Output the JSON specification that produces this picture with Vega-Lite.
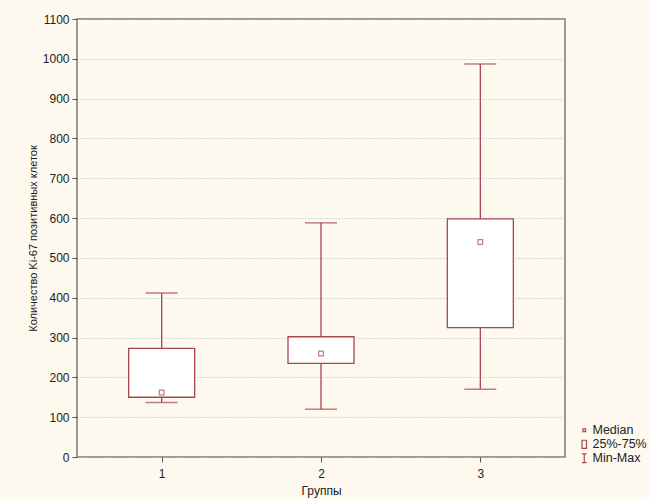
{
  "$schema": "https://vega.github.io/schema/vega-lite/v6.json",
  "width": 488,
  "height": 438,
  "autosize": {"type": "none"},
  "padding": {"left": 77, "top": 19, "right": 84, "bottom": 42},
  "background": "#fdf9ee",
  "config": {
    "font": "Liberation Sans",
    "view": {"fill": "white", "stroke": "#7a7a7a", "strokeWidth": 1.5},
    "axis": {
      "labelFont": "Liberation Sans",
      "titleFont": "Liberation Sans",
      "labelFontSize": 12,
      "labelColor": "#222",
      "titleColor": "#222",
      "titleFontWeight": "normal",
      "tickColor": "#555",
      "domain": false,
      "labelOverlap": false
    }
  },
  "datasets": {
    "boxes": [
      {"group": 1, "min": 137, "q1": 150, "median": 162, "q3": 273, "max": 412},
      {"group": 2, "min": 120, "q1": 235, "median": 260, "q3": 302, "max": 588},
      {"group": 3, "min": 170, "q1": 325, "median": 540, "q3": 598, "max": 987}
    ],
    "legend": [
      {"item": "Median"},
      {"item": "25%-75%"},
      {"item": "Min-Max"}
    ]
  },
  "layer": [
    {
      "data": {"name": "boxes"},
      "mark": {"type": "rule", "color": "#a84650", "strokeWidth": 1.3},
      "encoding": {
        "x": {
          "field": "group", "type": "quantitative",
          "scale": {"domain": [0.5, 3.5], "nice": false, "zero": false},
          "axis": {"values": [1, 2, 3], "format": "d", "grid": false, "title": "Группы", "titleFontSize": 12, "tickSize": 5, "labelPadding": 6, "titlePadding": 6}
        },
        "y": {
          "field": "min", "type": "quantitative",
          "scale": {"domain": [0, 1100], "nice": false},
          "axis": {"values": [0,100,200,300,400,500,600,700,800,900,1000,1100], "format": "d", "grid": true, "gridColor": "#b8b8b8", "gridDash": [1, 2], "gridWidth": 1, "tickSize": 5, "labelPadding": 3, "title": "Количество Ki-67 позитивных клеток", "titleFontSize": 11, "titlePadding": 4}
        },
        "y2": {"field": "max"}
      }
    },
    {
      "data": {"name": "boxes"},
      "mark": {"type": "tick", "orient": "horizontal", "color": "#a84650", "size": 32, "thickness": 1.5},
      "encoding": {
        "x": {"field": "group", "type": "quantitative", "axis": {"values": [1, 2, 3], "format": "d", "grid": false, "title": "Группы", "titleFontSize": 12, "tickSize": 5, "labelPadding": 6, "titlePadding": 6}},
        "y": {"field": "min", "type": "quantitative", "axis": {"values": [0,100,200,300,400,500,600,700,800,900,1000,1100], "format": "d", "grid": true, "gridColor": "#b8b8b8", "gridDash": [1, 2], "gridWidth": 1, "tickSize": 5, "labelPadding": 3, "title": "Количество Ki-67 позитивных клеток", "titleFontSize": 11, "titlePadding": 4}}
      }
    },
    {
      "data": {"name": "boxes"},
      "mark": {"type": "tick", "orient": "horizontal", "color": "#a84650", "size": 32, "thickness": 1.5},
      "encoding": {
        "x": {"field": "group", "type": "quantitative", "axis": {"values": [1, 2, 3], "format": "d", "grid": false, "title": "Группы", "titleFontSize": 12, "tickSize": 5, "labelPadding": 6, "titlePadding": 6}},
        "y": {"field": "max", "type": "quantitative", "axis": {"values": [0,100,200,300,400,500,600,700,800,900,1000,1100], "format": "d", "grid": true, "gridColor": "#b8b8b8", "gridDash": [1, 2], "gridWidth": 1, "tickSize": 5, "labelPadding": 3, "title": "Количество Ki-67 позитивных клеток", "titleFontSize": 11, "titlePadding": 4}}
      }
    },
    {
      "data": {"name": "boxes"},
      "mark": {"type": "bar", "width": 66, "fill": "white", "stroke": "#a84650", "strokeWidth": 1.3},
      "encoding": {
        "x": {"field": "group", "type": "quantitative", "axis": {"values": [1, 2, 3], "format": "d", "grid": false, "title": "Группы", "titleFontSize": 12, "tickSize": 5, "labelPadding": 6, "titlePadding": 6}},
        "y": {"field": "q1", "type": "quantitative", "axis": {"values": [0,100,200,300,400,500,600,700,800,900,1000,1100], "format": "d", "grid": true, "gridColor": "#b8b8b8", "gridDash": [1, 2], "gridWidth": 1, "tickSize": 5, "labelPadding": 3, "title": "Количество Ki-67 позитивных клеток", "titleFontSize": 11, "titlePadding": 4}},
        "y2": {"field": "q3"}
      }
    },
    {
      "data": {"name": "boxes"},
      "mark": {"type": "point", "shape": "square", "size": 22, "filled": false, "color": "#a84650", "strokeWidth": 1.2},
      "encoding": {
        "x": {"field": "group", "type": "quantitative", "axis": {"values": [1, 2, 3], "format": "d", "grid": false, "title": "Группы", "titleFontSize": 12, "tickSize": 5, "labelPadding": 6, "titlePadding": 6}},
        "y": {"field": "median", "type": "quantitative", "axis": {"values": [0,100,200,300,400,500,600,700,800,900,1000,1100], "format": "d", "grid": true, "gridColor": "#b8b8b8", "gridDash": [1, 2], "gridWidth": 1, "tickSize": 5, "labelPadding": 3, "title": "Количество Ki-67 позитивных клеток", "titleFontSize": 11, "titlePadding": 4}}
      }
    },
    {
      "data": {"name": "legend"},
      "mark": {"type": "point", "opacity": 0, "filled": false},
      "encoding": {
        "shape": {
          "field": "item", "type": "nominal",
          "scale": {
            "domain": ["Median", "25%-75%", "Min-Max"],
            "range": ["M-0.3,-0.3H0.3V0.3H-0.3Z", "M-0.5,-0.9H0.5V0.9H-0.5Z", "M-0.5,-1H0.5M0,-1V1M-0.5,1H0.5"]
          },
          "legend": {
            "title": null,
            "orient": "none",
            "legendX": 501,
            "legendY": 405,
            "symbolOpacity": 1,
            "symbolStrokeColor": "#a84650",
            "symbolFillColor": "transparent",
            "symbolStrokeWidth": 1.2,
            "symbolSize": 80,
            "labelFont": "Liberation Sans",
            "labelFontSize": 12.5,
            "labelColor": "#222",
            "rowPadding": 0,
            "labelOffset": 2,
            "symbolOffset": 0
          }
        }
      }
    }
  ]
}
